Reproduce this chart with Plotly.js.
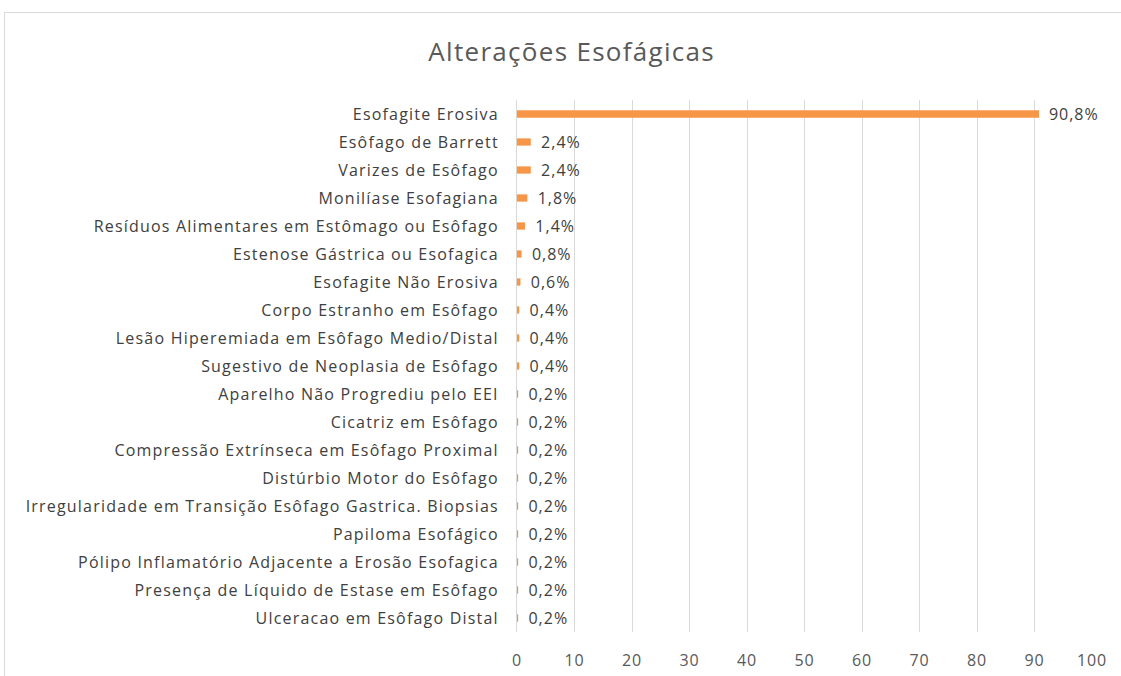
<!DOCTYPE html>
<html>
<head>
<meta charset="utf-8">
<script src="https://cdn.plot.ly/plotly-3.0.1.min.js"></script>
<style>
  html, body { margin: 0; padding: 0; background: #fff; overflow: hidden; }
  #frame { position: absolute; left: 4px; top: 12px; width: 1200px; height: 700px; border: 1px solid #d9d9d9; }
  #chart { position: absolute; left: 0; top: 0; width: 1121px; height: 676px; }
  #chart .ytick text { letter-spacing: 1.2px; }
  #chart .xtick text { letter-spacing: 0.8px; }
  #chart .bartext { letter-spacing: 1px; }
  #chart .gtitle { letter-spacing: 1.3px; }
</style>
</head>
<body>
<div id="frame"></div>
<div id="chart"></div>
<script>
const categories = [
  "Esofagite Erosiva",
  "Esôfago de Barrett",
  "Varizes de Esôfago",
  "Monilíase Esofagiana",
  "Resíduos Alimentares em Estômago ou Esôfago",
  "Estenose Gástrica ou Esofagica",
  "Esofagite Não Erosiva",
  "Corpo Estranho em Esôfago",
  "Lesão Hiperemiada em Esôfago Medio/Distal",
  "Sugestivo de Neoplasia de Esôfago",
  "Aparelho Não Progrediu pelo EEI",
  "Cicatriz em Esôfago",
  "Compressão Extrínseca em Esôfago Proximal",
  "Distúrbio Motor do Esôfago",
  "Irregularidade em Transição Esôfago Gastrica. Biopsias",
  "Papiloma Esofágico",
  "Pólipo Inflamatório Adjacente a Erosão Esofagica",
  "Presença de Líquido de Estase em Esôfago",
  "Ulceracao em Esôfago Distal"
];
const percentages = [90.8, 2.4, 2.4, 1.8, 1.4, 0.8, 0.6, 0.4, 0.4, 0.4, 0.2, 0.2, 0.2, 0.2, 0.2, 0.2, 0.2, 0.2, 0.2];
const xTicks = [0, 10, 20, 30, 40, 50, 60, 70, 80, 90, 100];

const labels = percentages.map(v => '\u00a0\u00a0' + v.toFixed(1).replace('.', ',') + '%');
const font = "'Open Sans', 'Liberation Sans', sans-serif";

Plotly.newPlot('chart', [{
  type: 'bar',
  orientation: 'h',
  x: percentages,
  y: categories,
  text: labels,
  textposition: 'outside',
  constraintext: 'none',
  cliponaxis: false,
  textfont: { family: font, size: 16, color: '#404040' },
  marker: { color: '#F79646' },
  hoverinfo: 'none'
}], {
  width: 1121,
  height: 676,
  margin: { l: 517, r: 29, t: 100, b: 44 },
  paper_bgcolor: 'rgba(0,0,0,0)',
  plot_bgcolor: 'rgba(0,0,0,0)',
  bargap: 0.74,
  showlegend: false,
  title: {
    text: 'Alterações Esofágicas',
    font: { family: font, size: 26, color: '#595959' },
    x: 0.51, xanchor: 'center',
    y: 0.923, yanchor: 'middle'
  },
  xaxis: {
    range: [0, 100],
    tickvals: xTicks,
    ticktext: xTicks.map(String),
    showgrid: true,
    gridcolor: '#d9d9d9',
    gridwidth: 1,
    zeroline: false,
    showline: false,
    ticks: '',
    ticklabelstandoff: 17,
    tickfont: { family: font, size: 16, color: '#595959' },
    fixedrange: true
  },
  yaxis: {
    autorange: 'reversed',
    showgrid: false,
    zeroline: false,
    showline: true,
    linecolor: '#d9d9d9',
    linewidth: 1,
    ticks: '',
    ticklabelstandoff: 14,
    tickfont: { family: font, size: 16, color: '#404040' },
    fixedrange: true
  }
}, { displayModeBar: false, staticPlot: true });
</script>
</body>
</html>
